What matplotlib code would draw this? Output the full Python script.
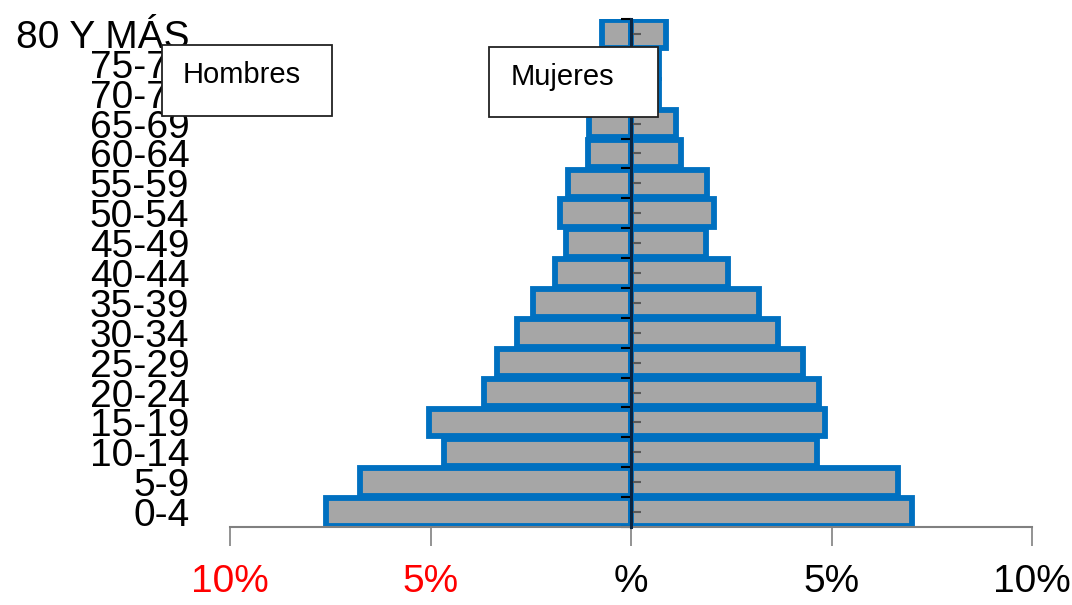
import matplotlib.pyplot as plt
from matplotlib.patches import Rectangle
from matplotlib.ticker import FixedLocator

# age groups, bottom to top
grupos = ["0-4", "5-9", "10-14", "15-19", "20-24", "25-29", "30-34", "35-39",
          "40-44", "45-49", "50-54", "55-59", "60-64", "65-69", "70-74", "75-79",
          "80 Y MÁS"]
# share of population (%)
hombres = [7.6, 6.75, 4.66, 5.04, 3.67, 3.34, 2.84, 2.44, 1.90, 1.62, 1.77,
           1.57, 1.07, 1.05, 0.80, 0.90, 0.72]
mujeres = [7.0, 6.66, 4.64, 4.84, 4.69, 4.29, 3.67, 3.19, 2.42, 1.87, 2.07,
           1.90, 1.25, 1.12, 0.70, 0.70, 0.88]
x_ticks = [-10, -5, 0, 5, 10]
x_labels = ["10%", "5%", "%", "5%", "10%"]
x_label_colors = ["red", "red", "black", "black", "black"]

FONT = ["Liberation Sans", "DejaVu Sans"]
W, H = 1072, 605

fig = plt.figure(figsize=(W / 100, H / 100), dpi=100)
ax = fig.add_axes([230 / W, 1 - 527 / H, (1032 - 230) / W, (527 - 19) / H])

pos = list(range(len(grupos)))
bar_kw = dict(height=0.92, color="#a6a6a6", edgecolor="#0070c0", linewidth=4.2)
ax.barh(pos, [-v for v in hombres], **bar_kw)
ax.barh(pos, mujeres, **bar_kw)

ax.set_xlim(-10, 10)
ax.set_ylim(-0.5, len(grupos) - 0.5)

for s in ("top", "right"):
    ax.spines[s].set_visible(False)
ax.spines["left"].set_position(("data", 0))
ax.spines["left"].set_color("#0b2440")
ax.spines["left"].set_linewidth(2.2)
ax.spines["left"].set_zorder(4)
ax.spines["bottom"].set_color("#808080")
ax.spines["bottom"].set_linewidth(1.5)

# y axis: labels at bar centres, far to the left; boundary ticks as minor
ax.set_yticks(pos)
ax.set_yticklabels(grupos, fontsize=28, family=FONT)
ax.yaxis.set_minor_locator(FixedLocator([p - 0.5 for p in pos] + [pos[-1] + 0.5]))
ax.tick_params(axis="y", which="major", direction="in", length=7, width=1.5,
               color="#595959", pad=318)
ax.tick_params(axis="y", which="minor", direction="out", length=7, width=1.5,
               color="black")

ax.set_xticks(x_ticks)
ax.set_xticklabels(x_labels, fontsize=28, family=FONT)
ax.tick_params(axis="x", direction="out", length=14, width=1.2, color="#808080",
               pad=13)
for lab, c in zip(ax.get_xticklabels(), x_label_colors):
    lab.set_color(c)

# legend-like text boxes
for x0, y0, x1, y1, tx, label in [(162, 45, 332, 116, 183, "Hombres"),
                                   (489, 47, 658, 117, 511, "Mujeres")]:
    fig.add_artist(Rectangle((x0 / W, 1 - y1 / H), (x1 - x0) / W, (y1 - y0) / H,
                             transform=fig.transFigure, facecolor="white",
                             edgecolor="#222222", linewidth=1.3, zorder=5))
    fig.text(tx / W, 1 - (y0 + 30) / H, label, fontsize=21, family=FONT,
             va="center", ha="left", zorder=6)

fig.savefig("out.png", dpi=100)
